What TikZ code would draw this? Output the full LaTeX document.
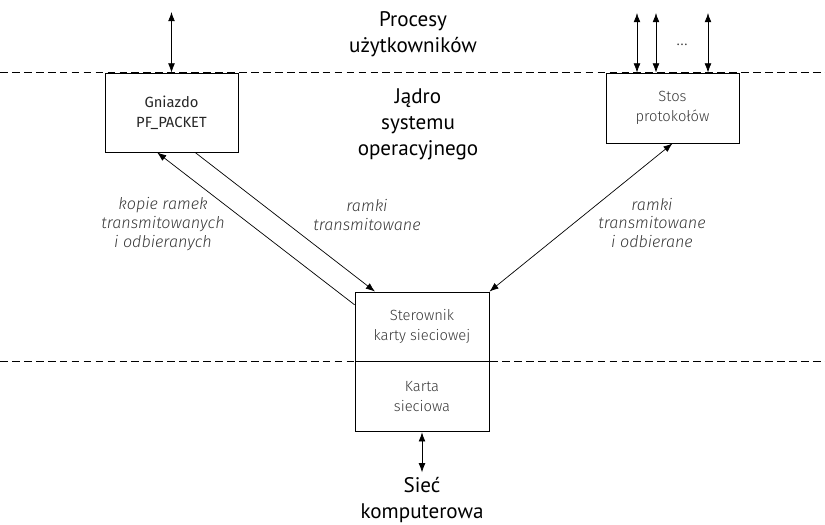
\documentclass[tikz,border=0pt]{standalone}
\usepackage{fontspec}
\setmainfont{PT Sans}
\newfontfamily\firalight{Fira Sans Light}
\newfontfamily\firareg{Fira Sans}
\usetikzlibrary{arrows.meta, positioning}

\begin{document}
\begin{tikzpicture}[
      x=0.025cm, y=-0.025cm,
      box/.style={rectangle, draw, line width=0.6pt, minimum width=3.325cm, align=center, font=\firalight\fontsize{10.5}{14}\selectfont, text=black!78},
      layer/.style={align=center, font=\fontsize{15}{18.5}\selectfont},
      note/.style={align=center, font=\firalight\itshape\fontsize{11.5}{13.5}\selectfont, text=black!78},
      arrow/.style={-{Latex[length=2.3mm, width=1.7mm]}, line width=0.5pt},
      dblarrow/.style={{Latex[length=2.3mm, width=1.7mm]}-{Latex[length=2.3mm, width=1.7mm]}, line width=0.5pt},
      border/.style={line width=0.5pt, dash pattern=on 5.5pt off 3pt}
    ]
    \useasboundingbox (0,0) rectangle (825,525);

    % granice warstw
    \coordinate (userL) at (0,72);
    \coordinate (userR) at (825,72);
    \coordinate (hwL) at (0,361);
    \coordinate (hwR) at (825,361);
    \draw[border] (userL) -- (userR);
    \draw[border] (hwL) -- (hwR);

    \node[layer] (procesy) at (413,34) {Procesy\\użytkowników};
    \node[layer] (jadro) at (418,124) {Jądro\\systemu\\operacyjnego};
    \node[layer] (siec) at (422,500) {Sieć\\komputerowa};

    \node[box, minimum height=1.975cm, font=\firareg\fontsize{10.5}{14}\selectfont, text=black!85] (gniazdo) at (171.5,112.5) {Gniazdo\\PF\_PACKET};
    \node[box, minimum height=1.75cm] (stos) at (672.5,108) {Stos\\protokołów};
    \node[box, minimum width=3.35cm, minimum height=1.725cm] (sterownik) at (422,326.5) {Sterownik\\karty sieciowej};
    \node[box, minimum width=3.35cm, minimum height=1.75cm, below=0pt of sterownik] (karta) {Karta\\sieciowa};

    % procesy <-> jadro
    \coordinate (upG) at (171.5,12);
    \draw[dblarrow] (upG) -- (gniazdo.north);
    \foreach \x/\n in {637/a, 656/b, 708/c} {
      \coordinate (up\n) at (\x,13);
      \draw[dblarrow] (up\n) -- (up\n |- stos.north);
    }
    \node[font=\firalight\fontsize{13}{15}\selectfont, text=black!75] (dots) at (682,45) {\ldots};

    % ramki
    \draw[arrow] ([yshift=-0.33cm]sterownik.north west) -- ([xshift=-0.36cm]gniazdo.south);
    \draw[arrow] ([xshift=0.59cm]gniazdo.south) -- ([xshift=-1.175cm]sterownik.north);
    \draw[dblarrow] (sterownik.north east) -- (stos.south);
    \draw[dblarrow] (karta.south) -- (siec.north);

    \node[note] (kopie) at (163,224) {kopie ramek\\transmitowanych\\i odbieranych};
    \node[note] (ramkiTx) at (367,215) {ramki\\transmitowane};
    \node[note] (ramkiTxRx) at (652,223) {ramki\\transmitowane\\i odbierane};
  \end{tikzpicture}
\end{document}
